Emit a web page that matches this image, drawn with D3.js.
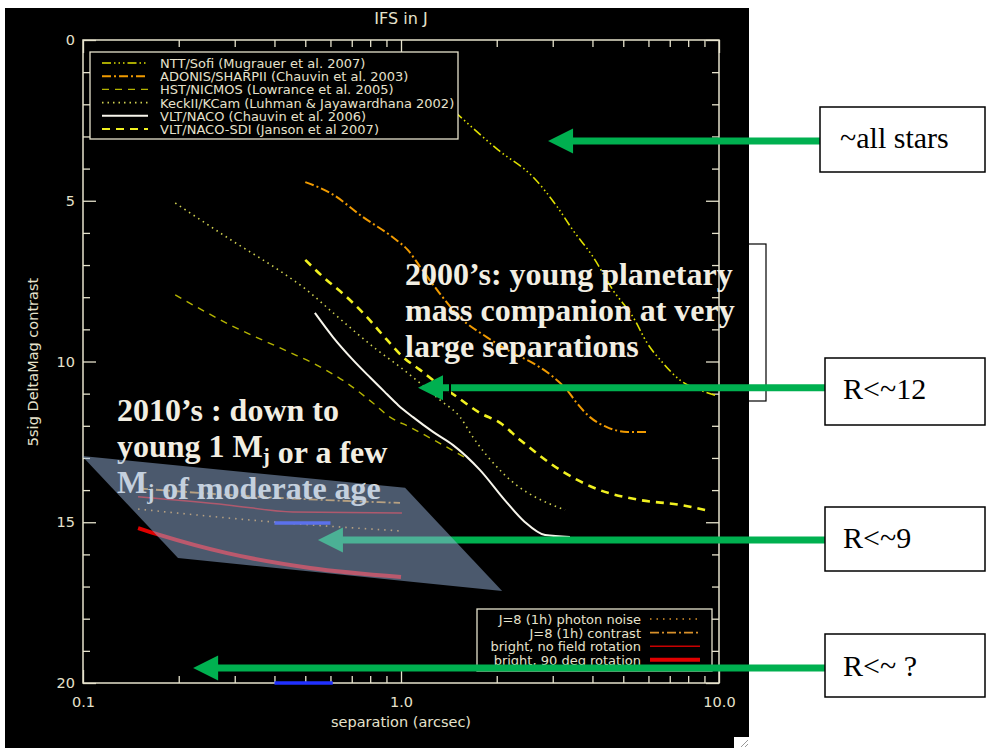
<!DOCTYPE html>
<html><head><meta charset="utf-8">
<script src="https://cdn.jsdelivr.net/npm/d3@7"></script>
<style>body{margin:0;background:#fff}svg{display:block}</style>
</head><body>
<svg id="c" width="989" height="748"></svg>
<script>
// ---- data (separation arcsec, 5-sigma delta mag) ----
const nttSofi = [[1.48,2.24],[2.02,3.42],[2.60,4.26],[3.10,5.19],[3.47,5.91],[4.02,6.75],[4.64,7.78],[5.37,8.62],[5.94,9.42],[6.67,10.05],[7.54,10.58],[8.71,10.89],[9.86,11.07]];
const adonis = [[0.50,4.42],[0.60,4.76],[0.76,5.51],[0.94,6.13],[1.05,6.53],[1.15,7.06],[1.30,7.78],[1.53,8.62],[1.86,9.24],[2.25,9.74],[2.60,10.05],[3.01,10.48],[3.33,10.89],[3.57,11.29],[3.93,11.73],[4.44,12.04],[5.14,12.19],[5.94,12.19]];
const hstNicmos = [[0.195,7.93],[0.29,8.86],[0.448,9.72],[0.528,10.05],[0.676,10.67],[0.816,11.29],[0.923,11.73],[1.067,12.04],[1.30,12.5],[1.60,13.0]];
const keckKcam = [[0.195,5.07],[0.29,6.2],[0.426,7.25],[0.506,7.78],[0.598,8.40],[0.706,9.02],[0.841,9.64],[0.993,10.17],[1.148,10.67],[1.327,11.20],[1.534,11.73],[1.683,12.35],[2.09,13.47],[3.28,14.62]];
const vltNaco = [[0.536,8.49],[0.611,9.24],[0.706,9.95],[0.80,10.50],[0.904,11.02],[0.98,11.36],[1.091,11.73],[1.261,12.19],[1.458,12.60],[1.77,13.37],[2.12,14.31],[2.45,14.99],[2.84,15.40],[3.40,15.46]];
const vltSdi = [[0.50,6.84],[0.569,7.37],[0.676,8.0],[0.782,8.62],[0.904,9.33],[1.014,9.86],[1.148,10.26],[1.298,10.67],[1.50,11.10],[1.77,11.60],[2.05,11.91],[2.37,12.44],[3.16,13.37],[4.22,14.0],[5.65,14.31],[7.54,14.46],[9.04,14.62]];
const photonNoise = [[0.149,14.59],[0.395,14.99],[0.993,15.27]];
const ifsContrast = [[0.15,13.95],[0.361,14.21],[0.993,14.40]];
const noRotation = [[0.149,14.21],[0.284,14.46],[0.457,14.68],[1.007,14.71]];
const rot90 = [[0.149,15.18],[0.175,15.40],[0.284,15.96],[0.518,16.42],[1.0,16.70]];
const fovTop = [[0.40,15.02],[0.60,15.02]];
const fovBottom = [[0.40,20],[0.61,20]];

const legendTop = ["NTT/Sofi (Mugrauer et al. 2007)","ADONIS/SHARPII (Chauvin et al. 2003)","HST/NICMOS (Lowrance et al. 2005)","KeckII/KCam (Luhman & Jayawardhana 2002)","VLT/NACO (Chauvin et al. 2006)","VLT/NACO-SDI (Janson et al 2007)"];
const legendBottom = ["J=8 (1h) photon noise","J=8 (1h) contrast","bright, no field rotation","bright, 90 deg rotation"];
const xMajor = [0.1,1,10];
const yMajor = [0,5,10,15,20];

// annotation anchors in data space: [sep, mag]
const zone = [[0.0993,12.94],[1.03,13.93],[2.08,17.14],[0.199,16.11]];
const arrows = [
  {tip:[2.90,3.14], label:"~all stars"},
  {tip:[1.131,10.82], label:"R<~12"},
  {tip:[0.548,15.55], label:"R<~9"},
  {tip:[0.222,19.53], label:"R<~ ?"}
];

// ---- drawing ----
const svg = d3.select("#c");
const fg = "#e6e2cc";
const x = d3.scaleLog().domain([0.1,10]).range([83,719]);
const y = d3.scaleLinear().domain([0,20]).range([40,683]);

svg.append("rect").attr("x",0).attr("y",0).attr("width",989).attr("height",748).attr("fill","#fff");
svg.append("rect").attr("x",5).attr("y",8).attr("width",744).attr("height",740).attr("fill","#000");

const fontA = "'DejaVu Sans', sans-serif";
svg.append("text").attr("x",401).attr("y",24).attr("text-anchor","middle").attr("fill",fg)
  .attr("font-family",fontA).attr("font-size",16).text("IFS in J");

// axes
const xMinor = [];
[0.1,1].forEach(b=>{for(let k=2;k<=9;k++) xMinor.push(b*k);});
const yMinor = d3.range(0,21).filter(v=>v%5!==0);

function styleAxis(g){
  g.select(".domain").remove();
  g.selectAll("line").attr("stroke",fg).attr("stroke-width",1.3);
  g.selectAll("text").attr("fill",fg).attr("font-family",fontA).attr("font-size",14.5);
}
svg.append("g").attr("transform","translate(0,683)")
  .call(d3.axisBottom(x).tickValues(xMajor).tickSize(-13).tickPadding(14).tickFormat(d3.format(".1f"))).call(styleAxis);
svg.append("g").attr("transform","translate(0,683)")
  .call(d3.axisBottom(x).tickValues(xMinor).tickSize(-7).tickFormat("")).call(styleAxis);
svg.append("g").attr("transform","translate(0,40)")
  .call(d3.axisTop(x).tickValues(xMajor).tickSize(-13).tickFormat("")).call(styleAxis);
svg.append("g").attr("transform","translate(0,40)")
  .call(d3.axisTop(x).tickValues(xMinor).tickSize(-7).tickFormat("")).call(styleAxis);
svg.append("g").attr("transform","translate(83,0)")
  .call(d3.axisLeft(y).tickValues(yMajor).tickSize(-13).tickPadding(8).tickFormat(d3.format("d"))).call(styleAxis);
svg.append("g").attr("transform","translate(83,0)")
  .call(d3.axisLeft(y).tickValues(yMinor).tickSize(-7).tickFormat("")).call(styleAxis);
svg.append("g").attr("transform","translate(719,0)")
  .call(d3.axisRight(y).tickValues(yMajor).tickSize(-13).tickFormat("")).call(styleAxis);
svg.append("g").attr("transform","translate(719,0)")
  .call(d3.axisRight(y).tickValues(yMinor).tickSize(-7).tickFormat("")).call(styleAxis);
svg.append("rect").attr("x",83).attr("y",40).attr("width",636).attr("height",643)
  .attr("fill","none").attr("stroke",fg).attr("stroke-width",1.5);

svg.append("text").attr("x",401).attr("y",727).attr("text-anchor","middle").attr("fill",fg)
  .attr("font-family",fontA).attr("font-size",14.5).text("separation (arcsec)");
svg.append("text").attr("transform","translate(38,362) rotate(-90)").attr("text-anchor","middle").attr("fill",fg)
  .attr("font-family",fontA).attr("font-size",14.5).text("5sig DeltaMag contrast");

// curves
const line = d3.line().x(d=>x(d[0])).y(d=>y(d[1])).curve(d3.curveMonotoneX);
const styles = [
  {data:nttSofi, color:"#e0e000", dash:"9,3,1.5,3,1.5,3,1.5,3", w:1.6},
  {data:adonis, color:"#f09a00", dash:"9,3,2,3", w:2},
  {data:hstNicmos, color:"#b4b400", dash:"7,6", w:1.4},
  {data:keckKcam, color:"#cfd050", dash:"1.5,4", w:1.6},
  {data:vltNaco, color:"#f8f6ec", dash:null, w:2},
  {data:vltSdi, color:"#f0f020", dash:"8,6", w:2.6}
];
const stylesB = [
  {data:photonNoise, color:"#d8902a", dash:"1.5,5", w:1.6},
  {data:ifsContrast, color:"#d8902a", dash:"9,3,2,3", w:1.8},
  {data:noRotation, color:"#c80000", dash:null, w:1.5},
  {data:rot90, color:"#e00000", dash:null, w:4}
];
styles.concat(stylesB).forEach(s=>{
  svg.append("path").datum(s.data).attr("d",line).attr("fill","none")
    .attr("stroke",s.color).attr("stroke-width",s.w).attr("stroke-dasharray",s.dash);
});
[fovTop,fovBottom].forEach(d=>{
  svg.append("path").datum(d).attr("d",line).attr("fill","none").attr("stroke","#2030ff").attr("stroke-width",3.5);
});

// top legend
svg.append("rect").attr("x",90).attr("y",52).attr("width",368).attr("height",87)
  .attr("fill","#000").attr("stroke",fg).attr("stroke-width",1.3);
legendTop.forEach((t,i)=>{
  const yy = 63 + i*13.2;
  svg.append("line").attr("x1",102).attr("x2",148).attr("y1",yy).attr("y2",yy)
    .attr("stroke",styles[i].color).attr("stroke-width",Math.min(styles[i].w,2)).attr("stroke-dasharray",styles[i].dash);
  svg.append("text").attr("x",160).attr("y",yy+5).attr("fill",fg).attr("font-family",fontA)
    .attr("font-size",13).text(t);
});
// bottom legend
svg.append("rect").attr("x",477).attr("y",609).attr("width",235).attr("height",62)
  .attr("fill","#000").attr("stroke",fg).attr("stroke-width",1.3);
legendBottom.forEach((t,i)=>{
  const yy = 619 + i*13.6;
  svg.append("line").attr("x1",650).attr("x2",700).attr("y1",yy).attr("y2",yy)
    .attr("stroke",stylesB[i].color).attr("stroke-width",stylesB[i].w).attr("stroke-dasharray",stylesB[i].dash);
  svg.append("text").attr("x",641).attr("y",yy+5).attr("text-anchor","end").attr("fill",fg).attr("font-family",fontA)
    .attr("font-size",13).text(t);
});

// bold annotation text
const serif = "'Liberation Serif','Times New Roman',serif";
const tcol = "#f2eee2";
function boldLines(x0,y0,lines){
  lines.forEach((parts,i)=>{
    const t = svg.append("text").attr("x",x0).attr("y",y0+i*36).attr("fill",tcol)
      .attr("font-family",serif).attr("font-weight","bold").attr("font-size",32);
    parts.forEach(p=>{
      if(typeof p==="string") t.append("tspan").text(p);
      else {
        t.append("tspan").attr("font-size",21).attr("dy",6).text(p.sub);
        t.append("tspan").attr("dy",-6).text("");
      }
    });
  });
}
boldLines(405,285,[["2000\u2019s: young planetary"],["mass companion at very"],["large separations"]]);
boldLines(117,421,[["2010\u2019s : down to"],["young 1 M",{sub:"j"}," or a few"],["M",{sub:"j"}," of moderate age"]]);

// boxes on the right
const green = "#00b050";
const boxes = [
  {x:820,y:107,w:165,h:65,tx:840,ty:148},
  {x:825,y:358,w:160,h:67,tx:843,ty:399},
  {x:825,y:507,w:160,h:64,tx:843,ty:548},
  {x:825,y:634,w:160,h:63,tx:843,ty:676}
];
svg.append("rect").attr("x",748).attr("y",244).attr("width",18).attr("height",157)
  .attr("fill","none").attr("stroke","#000").attr("stroke-width",1.2);
function drawArrow(a,b){
  const tx = x(a.tip[0]), ty = y(a.tip[1]);
  svg.append("line").attr("x1",b.x).attr("x2",tx+20).attr("y1",ty).attr("y2",ty)
    .attr("stroke",green).attr("stroke-width",7);
  svg.append("path").attr("d",`M${tx},${ty}L${tx+25},${ty-12.5}L${tx+25},${ty+12.5}Z`).attr("fill",green);
}
[0,1,3].forEach(i=>drawArrow(arrows[i],boxes[i]));
// small dark mark on the second arrow
svg.append("line").attr("x1",450).attr("x2",450).attr("y1",381).attr("y2",395).attr("stroke","#000").attr("stroke-width",2);
drawArrow(arrows[2],boxes[2]);

// shaded zone on top
svg.append("path").datum(zone)
  .attr("d",d=>"M"+d.map(p=>x(p[0])+","+y(p[1])).join("L")+"Z")
  .attr("fill","#96b2da").attr("fill-opacity",0.5);

boxes.forEach((b,i)=>{
  svg.append("rect").attr("x",b.x).attr("y",b.y).attr("width",b.w).attr("height",b.h)
    .attr("fill","#fff").attr("stroke","#000").attr("stroke-width",1.5);
  svg.append("text").attr("x",b.tx).attr("y",b.ty).attr("fill","#000").attr("font-family",serif)
    .attr("font-size",30).text(arrows[i].label);
});

// window resize grip
svg.append("rect").attr("x",734).attr("y",737).attr("width",15).attr("height",11).attr("fill","#fff");
svg.append("path").attr("d","M741,747L748,740M745,747L748,744").attr("stroke","#999").attr("stroke-width",1);
</script>
</body></html>
